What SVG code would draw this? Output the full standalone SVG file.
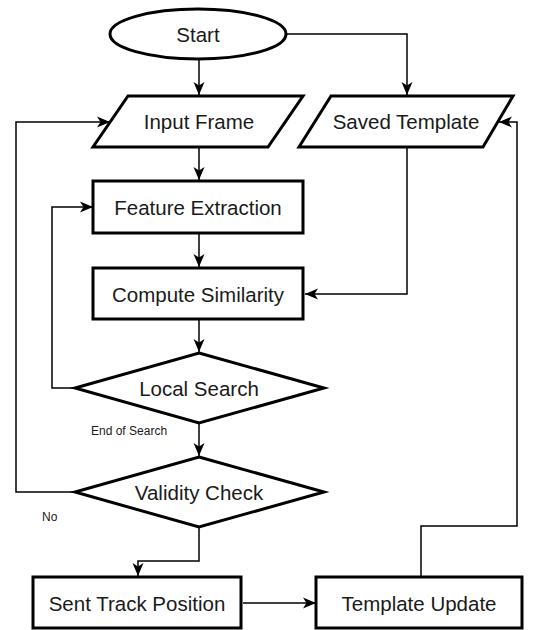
<svg xmlns="http://www.w3.org/2000/svg" width="536" height="630" viewBox="0 0 536 630">
<defs>
<marker id="arr" markerUnits="userSpaceOnUse" markerWidth="14" markerHeight="14" viewBox="0 0 14 14" refX="13" refY="7" orient="auto">
<path d="M0,1.5 L13,7 L0,12.5 L3.5,7 Z" fill="#000"/>
</marker>
<style>
.shape{fill:#fff;stroke:#000;stroke-width:3}
.edge{fill:none;stroke:#000;stroke-width:1.5;marker-end:url(#arr)}
.lbl{font-family:"Liberation Sans",Arial,sans-serif;font-size:20.5px;fill:#1a1a1a;text-anchor:middle;dominant-baseline:central}
.sm{font-family:"Liberation Sans",Arial,sans-serif;font-size:12px;fill:#1a1a1a;dominant-baseline:central}
</style>
</defs>
<rect width="536" height="630" fill="#fff"/>
<g id="connectors">
<path class="edge" d="M199,59 L199,95"/>
<path class="edge" d="M287,34 L407,34 L407,95"/>
<path class="edge" d="M199,147 L199,180"/>
<path class="edge" d="M199,233 L199,267"/>
<path class="edge" d="M407,147 L407,294 L305,294"/>
<path class="edge" d="M199,320 L199,352"/>
<path class="edge" d="M75,388 L52,388 L52,207 L93,207"/>
<path class="edge" d="M199,423 L199,456"/>
<path class="edge" d="M75,492 L16,492 L16,122 L110,122"/>
<path class="edge" d="M199,527 L199,561 L138,561 L138,576"/>
<path class="edge" d="M243,603 L316,603"/>
<path class="edge" d="M421,577 L421,526 L517,526 L517,122 L499,122"/>
<text class="sm" x="91" y="431">End of Search</text>
<text class="sm" x="42" y="517">No</text>
</g>
<g id="start">
<ellipse class="shape" cx="198" cy="34" rx="88" ry="25"/>
<text class="lbl" x="198" y="34">Start</text>
</g>
<g id="input-frame">
<polygon class="shape" points="128,96 303,96 268,147 93,147"/>
<text class="lbl" x="199" y="121">Input Frame</text>
</g>
<g id="saved-template">
<polygon class="shape" points="331,96 513,96 483,147 299,147"/>
<text class="lbl" x="406" y="121">Saved Template</text>
</g>
<g id="feature-extraction">
<rect class="shape" x="93" y="181" width="210" height="52"/>
<text class="lbl" x="198" y="207">Feature Extraction</text>
</g>
<g id="compute-similarity">
<rect class="shape" x="93" y="268" width="210" height="51"/>
<text class="lbl" x="198" y="294">Compute Similarity</text>
</g>
<g id="local-search">
<polygon class="shape" points="199,353 324,388 199,423 75,388"/>
<text class="lbl" x="199" y="388">Local Search</text>
</g>
<g id="validity-check">
<polygon class="shape" points="199,457 324,492 199,527 75,492"/>
<text class="lbl" x="199" y="492">Validity Check</text>
</g>
<g id="sent-track-position">
<rect class="shape" x="33" y="577" width="208" height="51"/>
<text class="lbl" x="137" y="603">Sent Track Position</text>
</g>
<g id="template-update">
<rect class="shape" x="316" y="577" width="206" height="51"/>
<text class="lbl" x="419" y="603">Template Update</text>
</g>
</svg>
